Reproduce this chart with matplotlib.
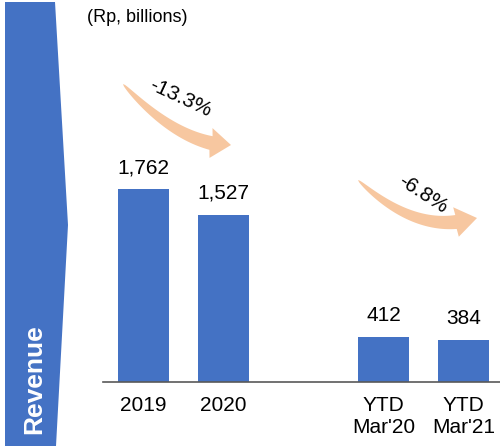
import numpy as np
import matplotlib
matplotlib.use("Agg")
import matplotlib.pyplot as plt
from matplotlib.patches import Polygon

plt.rcParams['font.family'] = ['Liberation Sans', 'DejaVu Sans']

# data
categories = ["2019", "2020", "YTD\nMar'20", "YTD\nMar'21"]
values = [1762, 1527, 412, 384]
changes = ["-13.3%", "-6.8%"]
unit_label = "(Rp, billions)"
section = "Revenue"

W, H = 500, 446
BLUE = '#4472C4'
PEACH = '#F7C7A0'


def px(x, y):
    # pixel position (top-left origin) -> figure fraction
    return (x / W, 1 - y / H)


def curved_arrow(p0, ctrl, base, tip, shaft_w, head_w):
    # tapered crescent shaft along a quadratic bezier, plus a triangle head
    p0, ctrl, base, tip = map(np.array, (p0, ctrl, base, tip))
    t = np.linspace(0, 1, 60)[:, None]
    pts = (1 - t) ** 2 * p0 + 2 * (1 - t) * t * ctrl + t ** 2 * base
    der = 2 * (1 - t) * (ctrl - p0) + 2 * t * (base - ctrl)
    der = der / np.linalg.norm(der, axis=1)[:, None]
    nrm = np.column_stack([-der[:, 1], der[:, 0]])
    w = (shaft_w / 2) * np.sqrt(t[:, 0])[:, None]
    side1 = pts + nrm * w
    side2 = pts - nrm * w
    d = (tip - base) / np.linalg.norm(tip - base)
    n = np.array([-d[1], d[0]])
    head = [base + n * head_w / 2, tip, base - n * head_w / 2]
    poly = np.vstack([side1, head, side2[::-1]])
    return [px(x, y) for x, y in poly]


fig = plt.figure(figsize=(W / 100, H / 100), dpi=100)

# left banner
banner = Polygon([px(5, 2), px(55, 2), px(68, 225), px(56, 446), px(5, 446)],
                 closed=True, transform=fig.transFigure, facecolor=BLUE,
                 edgecolor='none')
fig.add_artist(banner)
fig.text(*px(34, 379), section, rotation=90, ha='center', va='center',
         color='white', fontsize=19, fontweight='bold')

ax = fig.add_axes([103 / W, 64 / H, 397 / W, 382 / H])
x = [0, 1, 3, 4]
ax.bar(x, values, width=0.64, color=BLUE)
for xi, v in zip(x, values):
    ax.annotate(f"{v:,}", (xi, v), xytext=(0, 11.5), textcoords='offset points',
                ha='center', va='baseline', fontsize=15)

ax.set_xlim(-0.506, 4.456)
ax.set_ylim(0, 3487)
ax.set_xticks(x)
ax.set_xticklabels(categories)
ax.set_yticks([])
ax.tick_params(axis='x', length=0, pad=10, labelsize=15)
for s in ['top', 'left', 'right']:
    ax.spines[s].set_visible(False)
ax.spines['bottom'].set_color('#595959')
ax.spines['bottom'].set_linewidth(1.2)
ax.patch.set_visible(False)

fig.text(*px(87, 17), unit_label, ha='left', va='center', fontsize=13)

# change arrows
a1 = curved_arrow((123, 84), (168, 133), (211, 143), (231, 145), 14, 30)
a2 = curved_arrow((358, 180), (408, 227), (456, 222), (477, 218), 14, 30)
for a in (a1, a2):
    fig.add_artist(Polygon(a, closed=True, transform=fig.transFigure,
                           facecolor=PEACH, edgecolor='none'))

fig.text(*px(180, 98), changes[0], rotation=-25, ha='center', va='center',
         rotation_mode='anchor', fontsize=15)
fig.text(*px(423, 194), changes[1], rotation=-33, ha='center', va='center',
         rotation_mode='anchor', fontsize=15)

fig.savefig("out.png", dpi=100)
